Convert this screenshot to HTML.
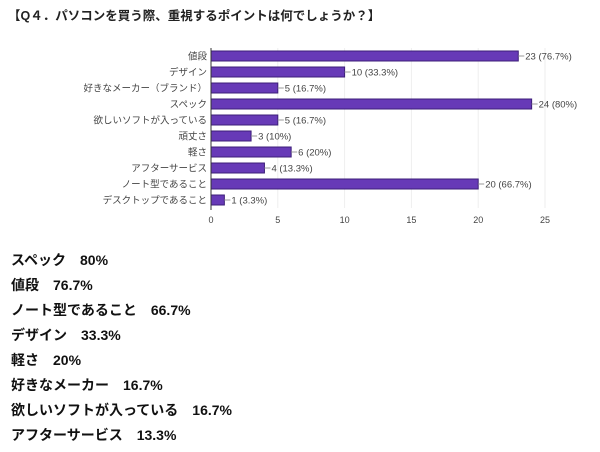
<!DOCTYPE html>
<html><head><meta charset="utf-8"><style>
body{margin:0;width:600px;height:452px;background:#fff;overflow:hidden;font-family:"Liberation Sans","Noto Sans CJK JP",sans-serif;}
#title{position:absolute;left:8px;top:5px;font-size:12.5px;font-weight:bold;color:#222;white-space:nowrap;}
.sum{position:absolute;left:11px;font-size:14px;font-weight:bold;color:#111;white-space:pre;}
svg{position:absolute;left:0;top:0;}
</style></head><body>
<div id="title">【Q４．パソコンを買う際、重視するポイントは何でしょうか？】</div>
<svg id="chart" width="600" height="240"></svg>
<div class="sum" style="top:250px">スペック　80%</div>
<div class="sum" style="top:275px">値段　76.7%</div>
<div class="sum" style="top:300px">ノート型であること　66.7%</div>
<div class="sum" style="top:325px">デザイン　33.3%</div>
<div class="sum" style="top:350px">軽さ　20%</div>
<div class="sum" style="top:375px">好きなメーカー　16.7%</div>
<div class="sum" style="top:400px">欲しいソフトが入っている　16.7%</div>
<div class="sum" style="top:425px">アフターサービス　13.3%</div>
<script>
const categories=["値段","デザイン","好きなメーカー（ブランド）","スペック","欲しいソフトが入っている","頑丈さ","軽さ","アフターサービス","ノート型であること","デスクトップであること"];
const counts=[23,10,5,24,5,3,6,4,20,1];
const percents=["76.7%","33.3%","16.7%","80%","16.7%","10%","20%","13.3%","66.7%","3.3%"];
const ticks=[0,5,10,15,20,25];
const NS="http://www.w3.org/2000/svg";
const svg=document.getElementById('chart');
const x0=211,x1=545,maxV=25,y0=56,step=16,bh=10;
const X=v=>x0+(x1-x0)*v/maxV;
const Y=i=>y0+i*step;
function mk(t,a){const e=document.createElementNS(NS,t);for(const k in a)e.setAttribute(k,a[k]);svg.appendChild(e);return e;}
ticks.forEach(t=>{
  if(t>0){const g=mk('line',{x1:X(t),x2:X(t),y1:48,y2:208,stroke:'#eee'});
  
  }
  const l=mk('text',{x:X(t),y:223,'font-size':9,fill:'#444','text-anchor':'middle'});l.textContent=t;
  
  
});
categories.forEach((c,i)=>{
  const y=Y(i);
  const lab=mk('text',{x:x0-4,y:y+3.5,'font-size':9.5,fill:'#444','text-anchor':'end'});lab.textContent=c;
  
  
  const b=mk('rect',{x:x0,y:y-bh/2,width:X(counts[i])-x0,height:bh,fill:'#673ab7',stroke:'#3d1f78','stroke-width':1});
  
  
  mk('line',{x1:X(counts[i]),x2:X(counts[i])+6,y1:y,y2:y,stroke:'#999'});
  const v=mk('text',{x:X(counts[i])+7,y:y+3.5,'font-size':9.5,fill:'#444'});v.textContent=counts[i]+' ('+percents[i]+')';
  
  
});
const ax=mk('line',{x1:x0,x2:x0,y1:48,y2:210,stroke:'#333'});


</script>
</body></html>
